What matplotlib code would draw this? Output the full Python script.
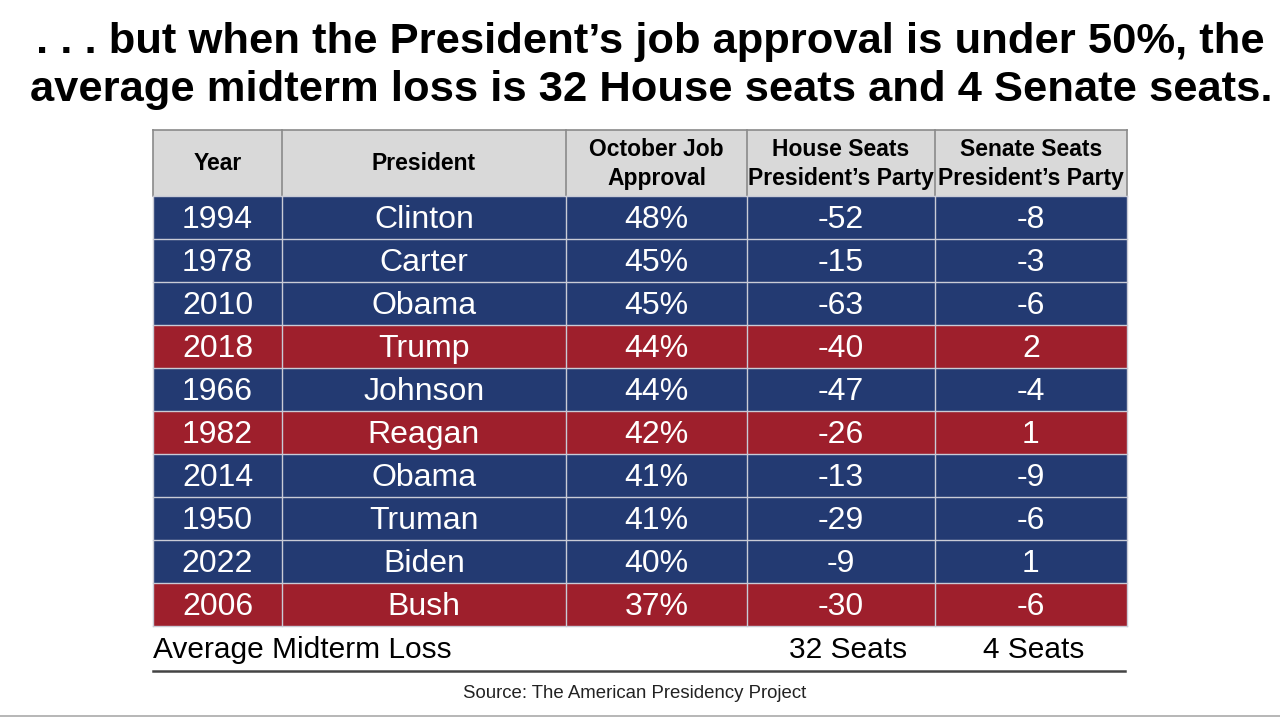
import matplotlib
matplotlib.use("Agg")
import matplotlib.pyplot as plt
from matplotlib.patches import Rectangle

# ---- data ----
title_lines = [". . . but when the President\u2019s job approval is under 50%, the",
               "average midterm loss is 32 House seats and 4 Senate seats."]
headers = ["Year", "President", "October Job\nApproval", "House Seats\nPresident\u2019s Party",
           "Senate Seats\nPresident\u2019s Party"]
years = ["1994", "1978", "2010", "2018", "1966", "1982", "2014", "1950", "2022", "2006"]
presidents = ["Clinton", "Carter", "Obama", "Trump", "Johnson", "Reagan", "Obama", "Truman", "Biden", "Bush"]
approval = ["48%", "45%", "45%", "44%", "44%", "42%", "41%", "41%", "40%", "37%"]
house = ["-52", "-15", "-63", "-40", "-47", "-26", "-13", "-29", "-9", "-30"]
senate = ["-8", "-3", "-6", "2", "-4", "1", "-9", "-6", "1", "-6"]
party = ["D", "D", "D", "R", "D", "R", "D", "D", "D", "R"]
avg_label = "Average Midterm Loss"
avg_house = "32 Seats"
avg_senate = "4 Seats"
source = "Source: The American Presidency Project"

# ---- style ----
BLUE = "#233a72"
RED = "#9e1f2c"
HEAD = "#d9d9d9"
col_edges = [153, 282, 566, 747, 935, 1127]
head_top, head_bot = 130, 196
row_h = 43.0

narrow_bold = ["Liberation Sans Narrow", "DejaVu Sans Condensed", "Liberation Sans"]
body_font = ["Liberation Sans", "DejaVu Sans"]

fig = plt.figure(figsize=(12.8, 7.2), dpi=100)
ax = fig.add_axes([0, 0, 1, 1])
ax.set_xlim(0, 1280)
ax.set_ylim(720, 0)
ax.axis("off")

# title
ax.text(650, 42, title_lines[0], ha="center", va="center", fontsize=31.3,
        fontweight="bold", family=narrow_bold, color="black")
ax.text(651, 90, title_lines[1], ha="center", va="center", fontsize=31.3,
        fontweight="bold", family=narrow_bold, color="black")

# header
ax.add_patch(Rectangle((col_edges[0], head_top), col_edges[-1] - col_edges[0],
                       head_bot - head_top, facecolor=HEAD, edgecolor="none"))
for j, h in enumerate(headers):
    cx = (col_edges[j] + col_edges[j + 1]) / 2
    ax.text(cx, (head_top + head_bot) / 2 + 1, h, ha="center", va="center", fontsize=16.5,
            fontweight="bold", family=narrow_bold, linespacing=1.3)
ax.plot([col_edges[0], col_edges[-1]], [head_top, head_top], color="#8a8a8a", lw=1.2)
for x in col_edges:
    ax.plot([x, x], [head_top, head_bot], color="#8a8a8a", lw=1.2)

# body rows
cols = [years, presidents, approval, house, senate]
for i in range(len(years)):
    y0 = head_bot + i * row_h
    fc = RED if party[i] == "R" else BLUE
    ax.add_patch(Rectangle((col_edges[0], y0), col_edges[-1] - col_edges[0], row_h,
                           facecolor=fc, edgecolor="none"))
    for j, c in enumerate(cols):
        cx = (col_edges[j] + col_edges[j + 1]) / 2
        ax.text(cx, y0 + row_h / 2 + 2.5, c[i], ha="center", va="center", fontsize=23,
                color="white", family=body_font)
# grid lines
n = len(years)
for i in range(n + 1):
    y = head_bot + i * row_h
    ax.plot([col_edges[0], col_edges[-1]], [y, y], color="#c9cbd6", lw=1.0)
for x in col_edges:
    ax.plot([x, x], [head_bot, head_bot + n * row_h], color="#c9cbd6", lw=1.0)

# average row
ya = head_bot + n * row_h + 24
ax.text(col_edges[0], ya, avg_label, ha="left", va="center", fontsize=21.5, family=body_font)
ax.text(848, ya, avg_house, ha="center", va="center", fontsize=21.5, family=body_font)
ax.text(1034, ya, avg_senate, ha="center", va="center", fontsize=21.5, family=body_font)
ax.plot([col_edges[0], 1125], [671, 671], color="#444444", lw=1.8)

# source
ax.text(635, 693, source, ha="center", va="center", fontsize=13.4, family=body_font,
        color="#222222")
ax.plot([0, 1280], [716, 716], color="#aaaaaa", lw=1.2)

fig.savefig("out.png", dpi=100, facecolor="white")
